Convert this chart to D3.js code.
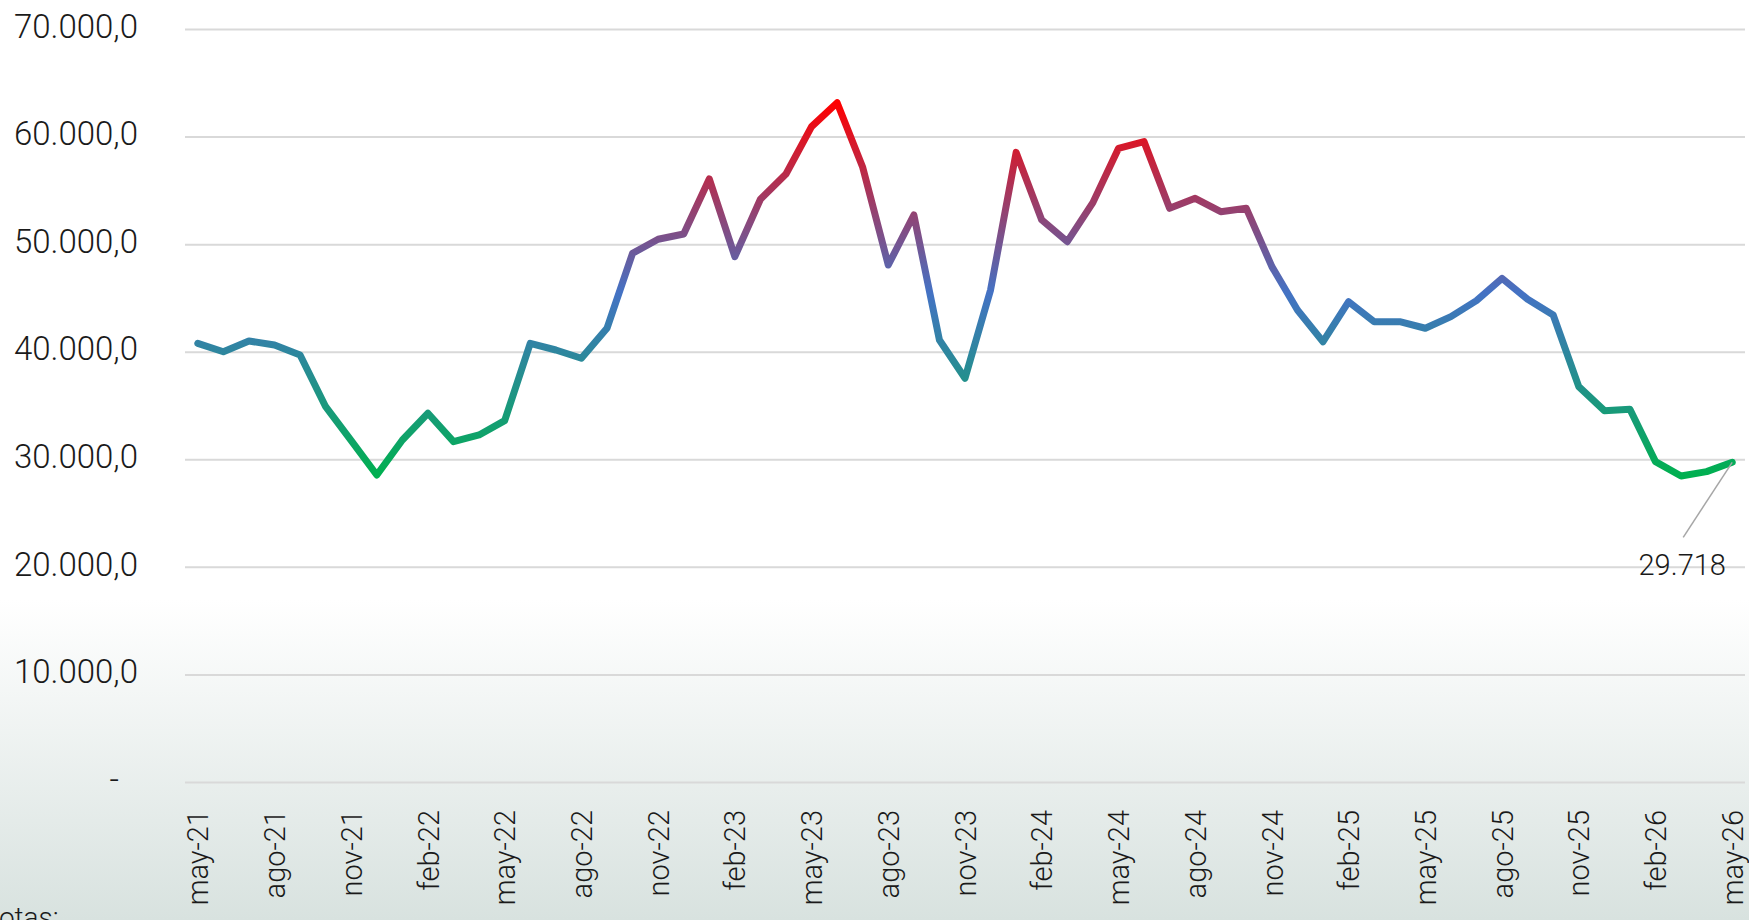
<!DOCTYPE html>
<html>
<head>
<meta charset="utf-8">
<script src="https://cdn.jsdelivr.net/npm/d3@7"></script>
<style>
  html, body { margin: 0; padding: 0; overflow: hidden; }
  body { width: 1749px; height: 920px; }
  text { font-family: Roboto, "Noto Sans", sans-serif; font-weight: 300; fill: #1a1a1a; }
</style>
</head>
<body>
<div class="chart"></div>
<script>
// monthly series, may-21 .. may-26
let months = ["may-21","jun-21","jul-21","ago-21","sep-21","oct-21","nov-21","dic-21",
  "ene-22","feb-22","mar-22","abr-22","may-22","jun-22","jul-22","ago-22","sep-22","oct-22","nov-22","dic-22",
  "ene-23","feb-23","mar-23","abr-23","may-23","jun-23","jul-23","ago-23","sep-23","oct-23","nov-23","dic-23",
  "ene-24","feb-24","mar-24","abr-24","may-24","jun-24","jul-24","ago-24","sep-24","oct-24","nov-24","dic-24",
  "ene-25","feb-25","mar-25","abr-25","may-25","jun-25","jul-25","ago-25","sep-25","oct-25","nov-25","dic-25",
  "ene-26","feb-26","mar-26","abr-26","may-26"];

let values = [40780, 40000, 41000, 40620, 39700, 34890, 31730, 28540,
  31790, 34280, 31640, 32260, 33590, 40780, 40160, 39390, 42180, 49150, 50450, 50940,
  56060, 48840, 54170, 56520, 60920, 63150, 57140, 48060, 52710, 41090, 37530, 45740,
  58530, 52250, 50230, 53860, 58900, 59530, 53330, 54260, 53020, 53330, 47910, 43880,
  40930, 44650, 42790, 42790, 42180, 43260, 44750, 46820, 44870, 43410, 36750, 34520,
  34650, 29780, 28450, 28850, 29718];

let tickMonths = ["may-21","ago-21","nov-21","feb-22","may-22","ago-22","nov-22","feb-23",
  "may-23","ago-23","nov-23","feb-24","may-24","ago-24","nov-24","feb-25","may-25","ago-25",
  "nov-25","feb-26","may-26"];

let yTicks = [0, 10000, 20000, 30000, 40000, 50000, 60000, 70000];

let lastLabel = "29.718";
let noteText = "Notas:";

let width = 1749, height = 920;
let margin = {left: 185, right: 1745, top: 29, bottom: 782};

let svg = d3.select(".chart").append("svg")
  .attr("width", width)
  .attr("height", height);

let defs = svg.append("defs");

// background fade at the bottom
let bg = defs.append("linearGradient")
  .attr("id", "bg")
  .attr("gradientUnits", "userSpaceOnUse")
  .attr("x1", 0).attr("x2", 0).attr("y1", 600).attr("y2", height);
bg.append("stop").attr("offset", 0).attr("stop-color", "#ffffff");
bg.append("stop").attr("offset", 1).attr("stop-color", "#d8e2df");

svg.append("rect")
  .attr("width", width).attr("height", height)
  .attr("fill", "url(#bg)");

let xScale = d3.scalePoint().domain(months).range([margin.left, margin.right]).padding(0.5);
let yScale = d3.scaleLinear().domain([0, 70000]).range([margin.bottom, margin.top]);

let loc = d3.formatLocale({decimal: ",", thousands: ".", grouping: [3], currency: ["", ""]});
let fmt = loc.format(",.1f");

let yAxis = d3.axisLeft(yScale)
  .tickValues(yTicks)
  .tickSize(-(margin.right - margin.left))
  .tickPadding(47)
  .tickFormat(function(d) { return d === 0 ? "-" : fmt(d); });

let y = svg.append("g")
  .attr("transform", "translate(" + margin.left + ",0)")
  .call(yAxis);
y.select(".domain").remove();
y.selectAll(".tick line").attr("stroke", "#d9d9d9").attr("stroke-width", 2);
y.selectAll(".tick text")
  .attr("font-size", 33)
  .attr("dy", "0.25em")
  .style("fill", "#1a1a1a");
y.selectAll(".tick").filter(function(d) { return d === 0; }).select("text")
  .attr("dx", -19);

let xAxis = d3.axisBottom(xScale)
  .tickValues(tickMonths)
  .tickSize(0)
  .tickPadding(0);

let x = svg.append("g")
  .attr("transform", "translate(0," + margin.bottom + ")")
  .call(xAxis);
x.select(".domain").remove();
x.selectAll(".tick text")
  .attr("font-size", 29)
  .attr("text-anchor", "end")
  .attr("transform", "rotate(-90)")
  .attr("x", -28)
  .attr("y", 0)
  .attr("dy", "0.35em")
  .style("fill", "#1a1a1a");

// line colour follows the value: green low, blue mid, red high
let vMin = d3.min(values), vMax = d3.max(values), vMid = 45500;
let lg = defs.append("linearGradient")
  .attr("id", "lineGrad")
  .attr("gradientUnits", "userSpaceOnUse")
  .attr("x1", 0).attr("x2", 0)
  .attr("y1", yScale(vMin)).attr("y2", yScale(vMax));
lg.append("stop").attr("offset", 0).attr("stop-color", "#00b050");
lg.append("stop").attr("offset", (vMid - vMin) / (vMax - vMin)).attr("stop-color", "#4472c4");
lg.append("stop").attr("offset", 1).attr("stop-color", "#ff0000");

let line = d3.line()
  .x(function(d, i) { return xScale(months[i]); })
  .y(function(d) { return yScale(d); });

svg.append("path")
  .datum(values)
  .attr("d", line)
  .attr("fill", "none")
  .attr("stroke", "url(#lineGrad)")
  .attr("stroke-width", 7)
  .attr("stroke-linejoin", "round")
  .attr("stroke-linecap", "round");

// label for the last value
let lx = xScale(months[months.length - 1]);
let ly = yScale(values[values.length - 1]);
svg.append("line")
  .attr("x1", lx).attr("y1", ly)
  .attr("x2", lx - 49).attr("y2", ly + 75)
  .attr("stroke", "#a6a6a6")
  .attr("stroke-width", 1.5);
svg.append("text")
  .attr("x", lx - 50)
  .attr("y", ly + 113)
  .attr("text-anchor", "middle")
  .attr("font-size", 29)
  .text(lastLabel);

svg.append("text")
  .attr("x", -21)
  .attr("y", 927)
  .attr("font-size", 28)
  .text(noteText);
</script>
</body>
</html>
